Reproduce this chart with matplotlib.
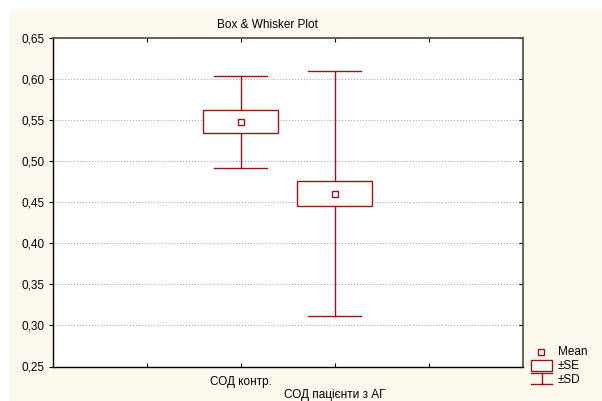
import matplotlib
matplotlib.use("Agg")
import matplotlib.pyplot as plt
from matplotlib.patches import Rectangle
from matplotlib.lines import Line2D

plt.rcParams['font.family'] = ['Liberation Sans', 'DejaVu Sans']

# Data
categories = ["СОД контр.", "СОД пацієнти з АГ"]
means = [0.5475, 0.4602]
se = [0.0140, 0.0148]
sd = [0.0557, 0.1490]
yticks = [0.25, 0.30, 0.35, 0.40, 0.45, 0.50, 0.55, 0.60, 0.65]
title = "Box & Whisker Plot"
legend_labels = ["Mean", "±SE", "±SD"]

W, H = 602, 401
color = '#8b1a1a'
cream = '#fef9ee'

fig = plt.figure(figsize=(W / 100, H / 100), dpi=100)
fig.patch.set_facecolor('white')
fig.patches.append(Rectangle((10 / W, 0), 1 - 10 / W, 1 - 10 / H, transform=fig.transFigure,
                             facecolor=cream, edgecolor='none', zorder=-10))

left, right, top, bottom = 52.5, 523, 37.5, 366.5
ax = fig.add_axes([left / W, 1 - bottom / H, (right - left) / W, (bottom - top) / H])
ax.set_facecolor('white')

xs = list(range(len(categories)))
box_hw = 0.4
cap_hw = 0.283
for x, m, s_e, s_d in zip(xs, means, se, sd):
    # whiskers
    ax.plot([x, x], [m + s_e, m + s_d], color=color, lw=1.0, zorder=3)
    ax.plot([x, x], [m - s_d, m - s_e], color=color, lw=1.0, zorder=3)
    ax.plot([x - cap_hw, x + cap_hw], [m + s_d, m + s_d], color=color, lw=1.0, zorder=3)
    ax.plot([x - cap_hw, x + cap_hw], [m - s_d, m - s_d], color=color, lw=1.0, zorder=3)
    ax.add_patch(Rectangle((x - box_hw, m - s_e), 2 * box_hw, 2 * s_e, facecolor='white',
                           edgecolor=color, lw=1.0, zorder=4))
    ax.plot([x], [m], marker='s', ms=4.5, mfc='white', mec=color, mew=1.0, ls='none', zorder=5)

ax.set_xlim(-2, 3)
ax.set_ylim(0.25, 0.65)
ax.set_yticks(yticks)
ax.set_yticklabels([f"{v:.2f}".replace('.', ',') for v in yticks], fontsize=8.5)
ax.set_xticks([-1, 0, 1, 2])
ax.set_xticklabels([])
ax.grid(axis='y', color='#b0b0b0', ls=':', lw=0.8)
ax.set_axisbelow(True)

ax.tick_params(axis='y', which='both', left=True, right=True, direction='out', length=3,
               width=0.8, pad=3)
ax.tick_params(axis='y', which='both', right=True)
for t in ax.yaxis.get_major_ticks():
    t.tick2line.set_marker(matplotlib.markers.TICKLEFT)
ax.tick_params(axis='x', which='both', top=True, bottom=True, direction='in', length=3, width=0.8)

for sp in ['left', 'bottom']:
    ax.spines[sp].set_color('black')
    ax.spines[sp].set_linewidth(1.0)
for sp in ['top', 'right']:
    ax.spines[sp].set_color('#555555')
    ax.spines[sp].set_linewidth(1.3)

# category labels (staggered)
for i, (x, lab) in enumerate(zip(xs, categories)):
    yoff = 382 if i == 0 else 395
    ax.text(x, 1 - yoff / H, lab, transform=ax.get_xaxis_transform() if False else
            matplotlib.transforms.blended_transform_factory(ax.transData, fig.transFigure),
            ha='center', va='center', fontsize=8.5)

fig.text(267 / W, 1 - 25 / H, title, ha='center', va='center', fontsize=8.5)

# legend (manual)
def fx(px):
    return px / W

def fy(py):
    return 1 - py / H

tf = fig.transFigure
fig.add_artist(Line2D([fx(541)], [fy(352)], marker='s', ms=4.5, mfc='white', mec=color,
                      mew=1.0, ls='none', transform=tf))
fig.add_artist(Rectangle((fx(531), fy(371)), fx(552) - fx(531), fy(360) - fy(371),
                         facecolor='white', edgecolor=color, lw=1.0, transform=tf))
fig.add_artist(Line2D([fx(531), fx(552)], [fy(373), fy(373)], color=color, lw=1.0, transform=tf))
fig.add_artist(Line2D([fx(531), fx(552)], [fy(384), fy(384)], color=color, lw=1.0, transform=tf))
fig.add_artist(Line2D([fx(541.5), fx(541.5)], [fy(373), fy(384)], color=color, lw=1.0, transform=tf))
for lab, py in zip(legend_labels, [352, 366, 380]):
    fig.text(fx(558), fy(py), lab, ha='left', va='center', fontsize=8.5)

fig.savefig('out.png', dpi=100, facecolor=fig.get_facecolor())
